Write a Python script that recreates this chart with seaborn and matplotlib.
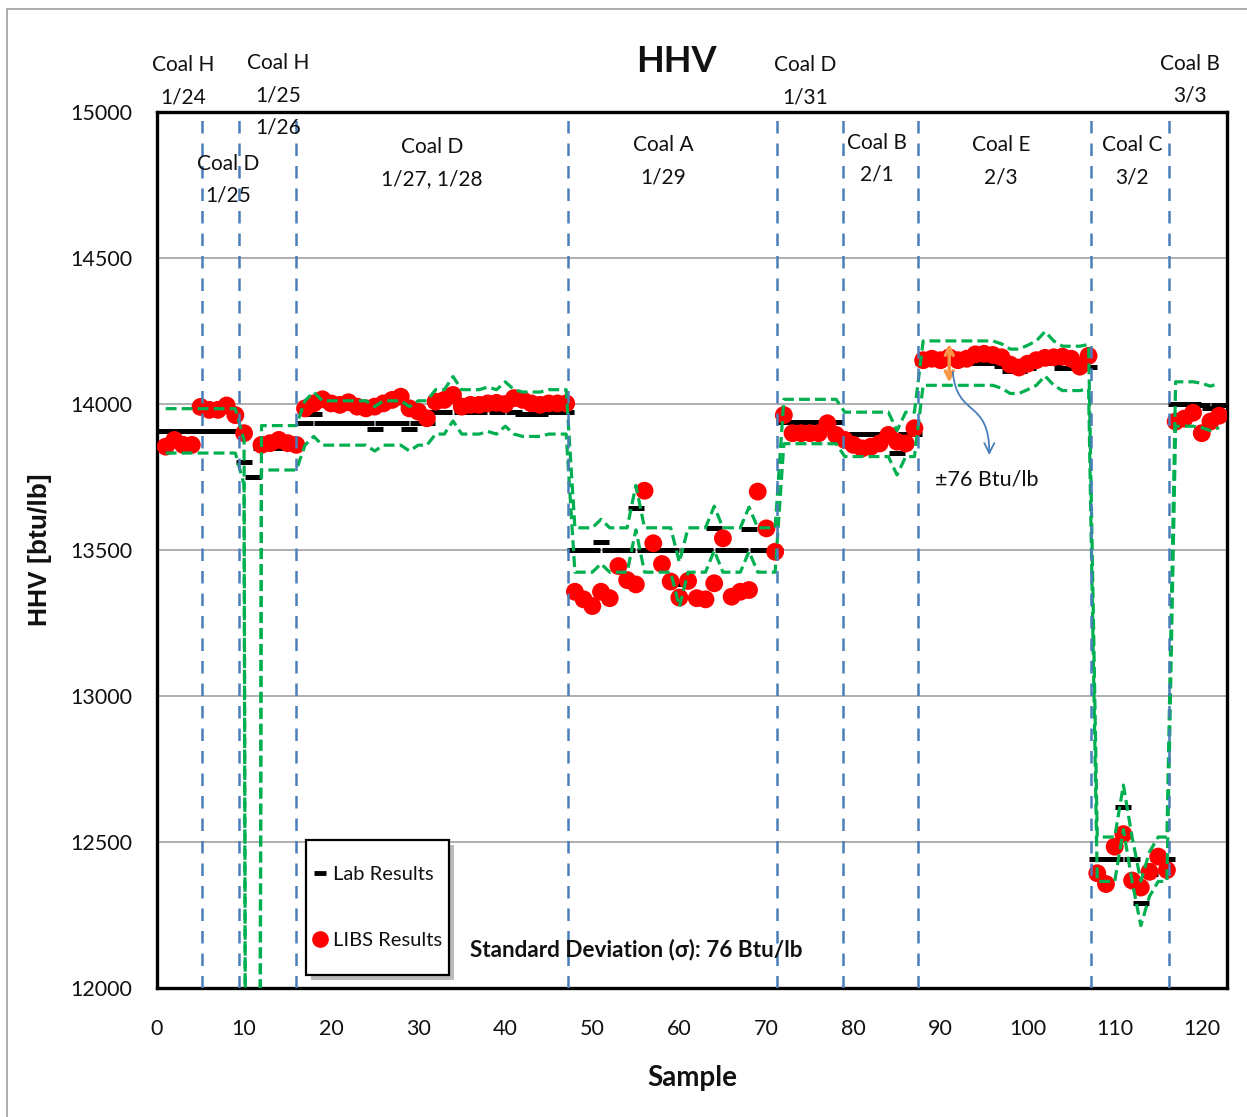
import numpy as np
import pandas as pd
import matplotlib
matplotlib.use("Agg")
import matplotlib.pyplot as plt
import seaborn as sns
from matplotlib.lines import Line2D
from matplotlib.patches import Rectangle, FancyArrowPatch
from matplotlib.path import Path

# ---------------- data ----------------
SAMPLES = list(range(1, 123))

LAB = [
    13908, 13908, 13908, 13908, 13908, 13908, 13908, 13908, 13908, 13800,
    13750, 13850, 13850, 13850, 13850, 13850, 13935, 13965, 13935, 13935,
    13935, 13935, 13935, 13935, 13915, 13935, 13935, 13935, 13915, 13935,
    13935, 13973, 13973, 14018, 13973, 13973, 13973, 13982, 13973, 14000,
    13973, 13965, 13965, 13965, 13973, 13973, 13973, 13500, 13500, 13500,
    13529, 13500, 13500, 13500, 13645, 13500, 13500, 13500, 13500, 13382,
    13500, 13500, 13500, 13574, 13500, 13500, 13500, 13571, 13500, 13500,
    13500, 13940, 13940, 13940, 13940, 13940, 13940, 13940, 13896, 13896,
    13896, 13896, 13896, 13896, 13833, 13896, 13896, 14140, 14140, 14140,
    14140, 14140, 14140, 14140, 14140, 14140, 14130, 14112, 14112, 14125,
    14140, 14172, 14140, 14122, 14122, 14122, 14128, 12441, 12441, 12441,
    12619, 12441, 12290, 12390, 12441, 12441, 14000, 14000, 14000, 13995,
    13985, 13995,
]

LIBS = [
    13854, 13877, 13860, 13860, 13990, 13980, 13980, 13995, 13962, 13900,
    np.nan, 13860, 13866, 13877, 13866, 13860, 13985, 14002, 14016, 14002,
    13997, 14006, 13991, 13985, 13991, 14002, 14014, 14025, 13985, 13974,
    13951, 14008, 14014, 14031, 13991, 13997, 13997, 14002, 14004, 14000,
    14020, 14014, 14002, 13997, 14002, 14002, 14002, 13357, 13331, 13308,
    13357, 13335, 13445, 13397, 13382, 13703, 13523, 13452, 13392, 13337,
    13394, 13335, 13331, 13386, 13540, 13340, 13357, 13363, 13700, 13574,
    13494, 13962, 13900, 13900, 13900, 13900, 13934, 13894, 13877, 13860,
    13848, 13854, 13865, 13894, 13871, 13865, 13917, 14150, 14155, 14150,
    14160, 14150, 14155, 14170, 14172, 14168, 14160, 14135, 14125, 14138,
    14150, 14158, 14160, 14162, 14155, 14128, 14165, 12393, 12356, 12484,
    12527, 12368, 12344, 12398, 12450, 12404, 13940, 13950, 13970, 13900,
    13940, 13960,
]

SIGMA = 76                 # +/- band shown by the green dashed lines
BAND_DROPOUT = [11]        # sample where the band series falls to zero

BOUNDARIES = [5.2, 9.4, 16.0, 47.2, 71.2, 78.8, 87.4, 107.3, 116.2]

SEGMENT_LABELS = [
    ("Coal H\n1/24", 183, 81),
    ("Coal D\n1/25", 228, 180),
    ("Coal H\n1/25\n1/26", 278, 95),
    ("Coal D\n1/27, 1/28", 432, 163),
    ("Coal A\n1/29", 663, 161),
    ("Coal D\n1/31", 805, 81),
    ("Coal B\n2/1", 877, 159),
    ("Coal E\n2/3", 1001, 161),
    ("Coal C\n3/2", 1132, 161),
    ("Coal B\n3/3", 1190, 80),
]

YTICKS = [12000, 12500, 13000, 13500, 14000, 14500, 15000]
XTICKS = [0, 10, 20, 30, 40, 50, 60, 70, 80, 90, 100, 110, 120]

# ---------------- frame ----------------
df = pd.DataFrame({"Sample": SAMPLES, "Lab": LAB, "LIBS": LIBS})
upper = df["Lab"] + SIGMA
lower = df["Lab"] - SIGMA
drop = df["Sample"].isin(BAND_DROPOUT)
upper[drop] = 0
lower[drop] = 0
df["Upper"] = upper
df["Lower"] = lower

sns.set_theme(style="white")
FONT = ["Lato", "DejaVu Sans"]
plt.rcParams["font.family"] = FONT

W, H = 1247, 1117
fig = plt.figure(figsize=(W / 100, H / 100), dpi=100)
ax = fig.add_axes([157 / W, 1 - 988 / H, (1227 - 157) / W, (988 - 112) / H])

GREEN = "#00B050"
BLUE = "#4A7EBB"
TEXT = "#111111"

# gridlines
for yv in YTICKS[1:-1]:
    ax.axhline(yv, color="#9A9A9A", lw=1.1, zorder=0)

# lab results (black dashes)
sns.lineplot(data=df, x="Sample", y="Lab", ax=ax, color="black", marker="_",
             linestyle="none", markersize=11.5, markeredgewidth=3.6,
             markeredgecolor="black", zorder=3, label="_nolegend_")

# LIBS results (red dots)
sns.scatterplot(data=df, x="Sample", y="LIBS", ax=ax, color="#FF0000", s=165,
                edgecolor="none", linewidth=0, zorder=4, legend=False)

# +/- sigma bands
for col in ["Upper", "Lower"]:
    ax.plot(df["Sample"], df[col], color=GREEN, lw=2.3, dashes=(3.4, 1.6),
            zorder=5)

# segment boundaries
for b in BOUNDARIES:
    ax.axvline(b, color=BLUE, lw=1.8, dashes=(5, 4), zorder=6)

ax.set_xlim(0, 122.9)
ax.set_ylim(12000, 15000)
ax.set_xticks(XTICKS)
ax.set_yticks(YTICKS)
ax.tick_params(axis="both", labelsize=15.5, labelcolor=TEXT,
               direction="out", length=6, width=1.2)
ax.tick_params(axis="y", pad=12, color="#888888")
ax.tick_params(axis="x", pad=16, color="#555555")
for s in ax.spines.values():
    s.set_color("black")
    s.set_linewidth(2.4)

ax.set_xlabel("Sample", fontsize=20, fontweight="bold", color=TEXT)
ax.set_ylabel("HHV [btu/lb]", fontsize=19, fontweight="bold", color=TEXT,
              family=["Liberation Sans", "DejaVu Sans"])
ax.xaxis.set_label_coords(0.5, -(1065 - 988) / 876)
ax.yaxis.set_label_coords(-(157 - 52) / 1070, 0.5)

# title
fig.text(676 / W, 1 - 62 / H, "HHV", fontsize=26, fontweight="bold",
         ha="center", va="center", color=TEXT)

# segment labels
for txt, px, py in SEGMENT_LABELS:
    fig.text(px / W, 1 - py / H, txt, fontsize=15, ha="center",
             va="center", linespacing=1.75, color=TEXT)

# +/- arrow and callout
ax.annotate("", xy=(91.0, 14064), xytext=(91.0, 14216),
            arrowprops=dict(arrowstyle="<->", color="#F79646", lw=2.5,
                            mutation_scale=14), zorder=7)
verts = [(91.4, 14110), (91.9, 13950), (95.6, 14020), (95.6, 13825)]
curve = FancyArrowPatch(path=Path(verts, [Path.MOVETO, Path.CURVE4,
                                          Path.CURVE4, Path.CURVE4]),
                        arrowstyle="->", mutation_scale=18, color=BLUE,
                        lw=1.3, zorder=7)
ax.add_patch(curve)
fig.text(987 / W, 1 - 480 / H, "±76 Btu/lb", fontsize=15.5, ha="center",
         va="center", color=TEXT)

# standard deviation text
fig.text(470 / W, 1 - 950 / H, "Standard Deviation (σ): 76 Btu/lb",
         fontsize=16.2, fontweight="bold", ha="left", va="center", color=TEXT)

# legend box (manual frame with shadow)
lx0, ly0, lx1, ly1 = 306, 840, 449, 975
shadow = Rectangle((lx0 + 5, H - ly1 - 5), lx1 - lx0, ly1 - ly0,
                   transform=None, facecolor="#BBBBBB", edgecolor="none",
                   zorder=8)
box = Rectangle((lx0, H - ly1), lx1 - lx0, ly1 - ly0, transform=None,
                facecolor="white", edgecolor="black", lw=1.6, zorder=9)
fig.patches.extend([shadow, box])
handles = [
    Line2D([], [], color="black", marker="_", linestyle="none",
           markersize=9, markeredgewidth=3.5, label="Lab Results"),
    Line2D([], [], color="#FF0000", marker="o", linestyle="none",
           markersize=11, label="LIBS Results"),
]
leg = fig.legend(handles=handles, loc="center",
                 bbox_to_anchor=((lx0 + lx1) / 2 / W, 1 - (ly0 + ly1) / 2 / H),
                 frameon=False, fontsize=14.5, labelspacing=2.4,
                 handlelength=0.7, handletextpad=0.25, borderpad=0)
for t in leg.get_texts():
    t.set_color(TEXT)
leg.set_zorder(10)

# outer border
fig.patches.append(Rectangle((7, -5), W, H - 9 + 5, transform=None,
                             facecolor="none", edgecolor="#A0A0A0", lw=1.2))

fig.savefig("out.png", dpi=100)
